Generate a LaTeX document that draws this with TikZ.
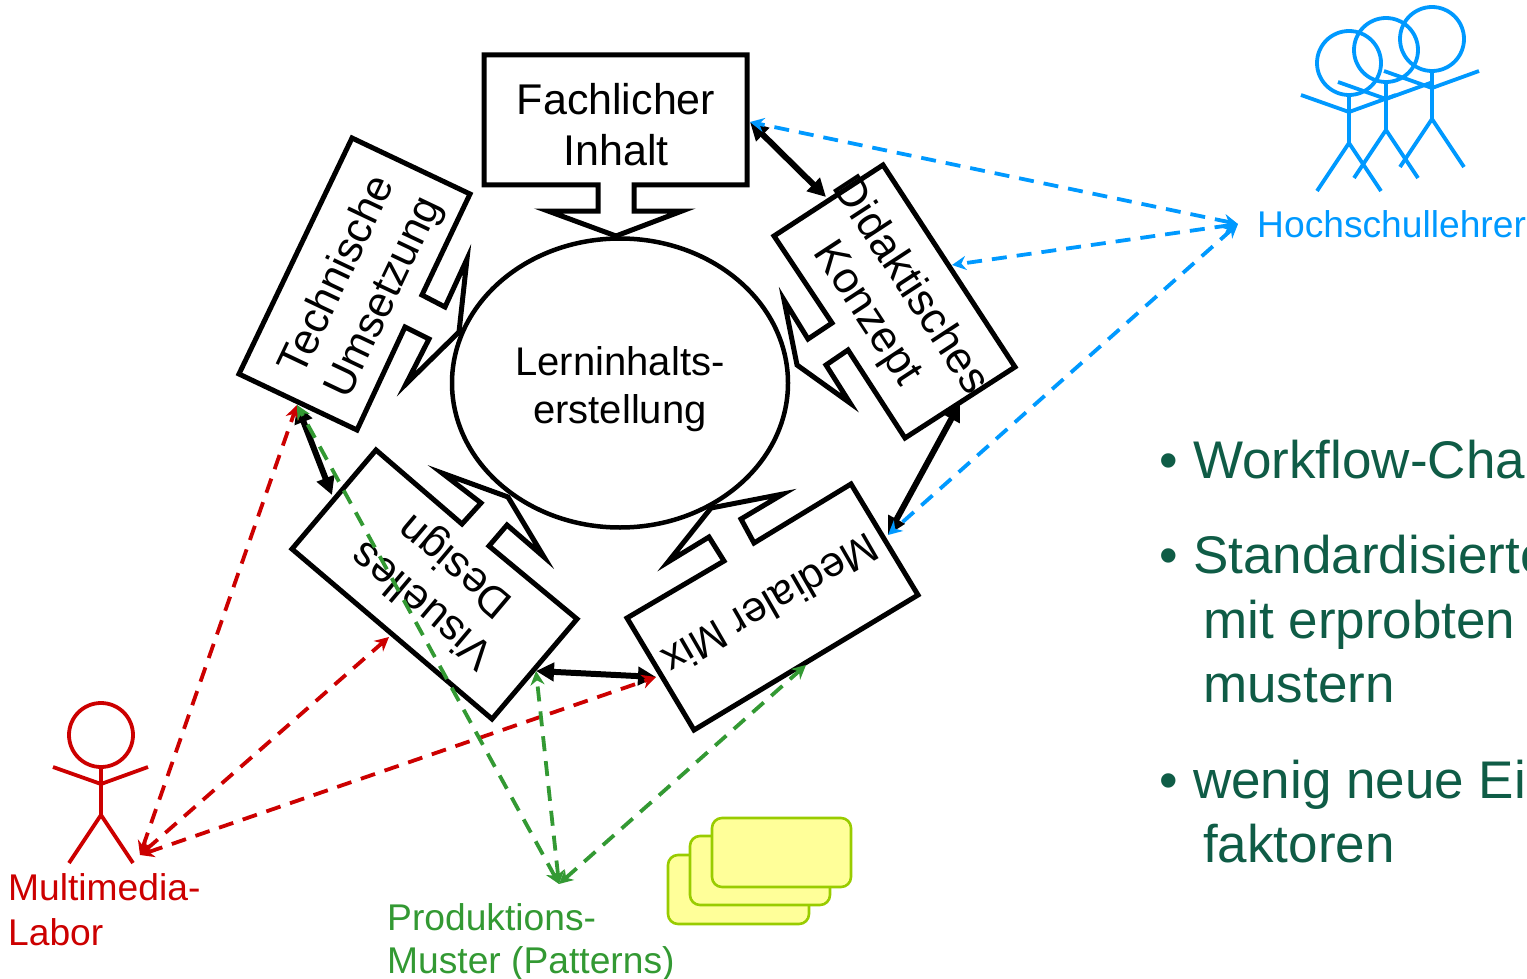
\documentclass[tikz,border=0pt]{standalone}
\usepackage{fontspec}
\setmainfont{Liberation Sans}
\usetikzlibrary{arrows.meta,shapes.geometric}
\definecolor{hsblue}{HTML}{0099FF}
\definecolor{mmred}{HTML}{CC0000}
\definecolor{pgreen}{HTML}{339933}
\definecolor{bodygreen}{HTML}{0F5C46}
\definecolor{cardfill}{HTML}{FFFF99}
\definecolor{cardline}{HTML}{99CC00}
\newcommand{\fsz}[2]{\fontsize{#1}{#2}\selectfont}
\tikzset{
  x=1pt,y=-1pt,
  boxline/.style={draw=black,line width=5pt,fill=white,miter limit=30,line join=miter},
  boxtext/.style={inner sep=0pt,align=center,font=\fsz{43}{51}},
  blackarrow/.style={draw=black,line width=6pt,{Triangle[length=18pt,width=18pt]}-{Triangle[length=18pt,width=18pt]}},
  dasharrow/.style={line width=3.8pt,dash pattern=on 15pt off 10pt,{Stealth[length=14pt,width=14pt]}-{Stealth[length=14pt,width=14pt]}},
  bluearrow/.style={dasharrow,draw=hsblue},
  redarrow/.style={dasharrow,draw=mmred},
  greenarrow/.style={dasharrow,draw=pgreen},
  card/.style={draw=cardline,fill=cardfill,line width=2.6pt,rounded corners=10pt},
  sidelabel/.style={inner sep=0pt,anchor=base west,font=\fsz{37.2}{44}},
  bodytext/.style={inner sep=0pt,anchor=base west,text=bodygreen,font=\fsz{53}{60}},
  stickman/.pic={
    \draw[line width=3.8pt,pic actions] (0,0) circle[radius=32];
    \draw[line width=3.8pt,pic actions] (0,32) -- (0,80);
    \draw[line width=3.8pt,pic actions] (-48,32) -- (0,49) -- (47,32);
    \draw[line width=3.8pt,pic actions] (-32,128) -- (0,80) -- (32,128);
  }
}
\begin{document}
\begin{tikzpicture}
\useasboundingbox (0,0) rectangle (1527,979);
\clip (0,0) rectangle (1527,979);

% callout boxes
\draw[boxline] (484,55) -- (747,55) -- (747,185) -- (634,185) -- (634,211) -- (682,211) -- (616,236) -- (548,211) -- (598,211) -- (598,185) -- (484,185) -- cycle;
\draw[boxline] (352,138) -- (470,194) -- (422,295) -- (445,307) -- (467,259) -- (459,332) -- (406,384) -- (429,339) -- (405,327) -- (357,430) -- (239,374) -- cycle;
\draw[boxline] (883,165) -- (1015,367) -- (905,438) -- (848,350) -- (826,365) -- (850,403) -- (797,365) -- (784,300) -- (808,339) -- (832,323) -- (774,236) -- cycle;
\draw[boxline] (851,484) -- (918,595) -- (694,730) -- (627,618) -- (724,561) -- (709,537) -- (668,562) -- (711,508) -- (783,494) -- (741,519) -- (754,543) -- cycle;
\draw[boxline] (376,450) -- (462,524) -- (481,503) -- (442,473) -- (508,497) -- (544,557) -- (507,525) -- (489,546) -- (577,619) -- (492,719) -- (292,549) -- cycle;

% central ellipse
\node[ellipse,draw=black,line width=4.5pt,fill=white,inner sep=0pt,minimum width=336pt,minimum height=289pt] (lern) at (620,383) {};
\node[inner sep=0pt,align=center,font=\fsz{40}{48}] (lernT) at (620,389) {Lerninhalts-\\erstellung};

% box labels
\node[boxtext] (fach) at (616,125) {Fachlicher\\Inhalt};
\node[boxtext,rotate=64.6] (tech) at (362,287) {Technische\\Umsetzung};
\node[boxtext,rotate=-56.8,font=\fsz{44}{51}] (dida) at (888,300) {Didaktisches\\Konzept};
\node[boxtext,rotate=210,font=\fsz{42.5}{51}] (medi) at (771,605) {Medialer Mix};
\node[boxtext,rotate=139.8] (visu) at (440,584) {Visuelles\\Design};

% connector ends
\coordinate (fachR) at (750,122);
\coordinate (didaT) at (826,197);
\coordinate (didaR) at (952,265);
\coordinate (didaB) at (960,403);
\coordinate (mediR) at (888,535);
\coordinate (mediL) at (656,677);
\coordinate (mediB) at (806,665);
\coordinate (visuR) at (536,671);
\coordinate (visuT) at (332,495);
\coordinate (visuL) at (389,637);
\coordinate (techB) at (297,405);
\coordinate (hub) at (1238,224);
\coordinate (mmhub) at (140,855);
\coordinate (phub) at (559,884);

% double arrows
\draw[blackarrow] (fachR) -- (didaT);
\draw[blackarrow] (didaB) -- (mediR);
\draw[blackarrow] (mediL) -- (visuR);
\draw[blackarrow] (visuT) -- (techB);

% dashed arrows
\draw[bluearrow] (hub) -- (fachR);
\draw[bluearrow] (hub) -- (didaR);
\draw[bluearrow] (hub) -- (mediR);
\draw[redarrow] (mmhub) -- (techB);
\draw[redarrow] (mmhub) -- (visuL);
\draw[redarrow] (mmhub) -- (mediL);
\draw[greenarrow] (phub) -- (techB);
\draw[greenarrow] (phub) -- (visuR);
\draw[greenarrow] (phub) -- (mediB);

% stick figures
\pic[draw=mmred] at (101,735) {stickman};
\pic[draw=hsblue] at (1349,63) {stickman};
\pic[draw=hsblue] at (1386,50) {stickman};
\pic[draw=hsblue] at (1432,39) {stickman};

% pattern cards
\draw[card] (668,855) rectangle (809,924);
\draw[card] (690,836) rectangle (830,905);
\draw[card] (712,818) rectangle (851,887);

% side labels
\node[sidelabel,text=hsblue] (hs) at (1257,237) {Hochschullehrer};
\node[sidelabel,text=mmred] (mm1) at (8,900) {Multimedia-};
\node[sidelabel,text=mmred] (mm2) at (8,945) {Labor};
\node[sidelabel,text=pgreen] (pm1) at (387,930) {Produktions-};
\node[sidelabel,text=pgreen] (pm2) at (387,973) {Muster (Patterns)};

% body text
\node[bodytext] (b1) at (1159,478) {\makebox[34pt][l]{•}Workflow-Cha};
\node[bodytext] (b2) at (1159,573) {\makebox[34pt][l]{•}Standardisierte};
\node[bodytext] (b3) at (1203,638) {mit erprobten};
\node[bodytext] (b4) at (1203,702) {mustern};
\node[bodytext] (b5) at (1159,798) {\makebox[34pt][l]{•}wenig neue Ei};
\node[bodytext] (b6) at (1203,862) {faktoren};
\end{tikzpicture}
\end{document}
